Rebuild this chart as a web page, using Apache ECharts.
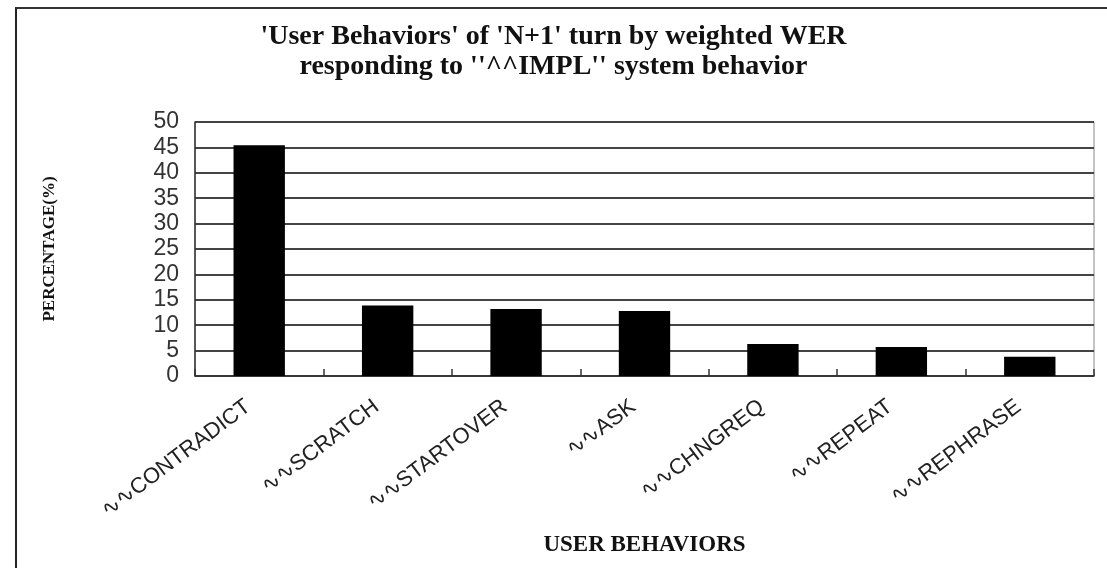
<!DOCTYPE html>
<html>
<head>
<meta charset="utf-8">
<script src="https://cdn.jsdelivr.net/npm/echarts@6/dist/echarts.min.js"></script>
<style>
  html, body { margin: 0; padding: 0; background: #fff; }
  #frame { position: absolute; left: 15px; top: 7px; width: 1092px; height: 561px;
           border-left: 2px solid #222; border-top: 2px solid #333; box-sizing: border-box; }
  #chart { width: 1107px; height: 568px; }
</style>
</head>
<body>
<div id="frame"></div>
<div id="chart"></div>
<script>
const categories = ['CONTRADICT', 'SCRATCH', 'STARTOVER', 'ASK', 'CHNGREQ', 'REPEAT', 'REPHRASE'];
const percentages = [45.4, 13.9, 13.2, 12.8, 6.3, 5.7, 3.8];
const titleLines = ["'User Behaviors' of 'N+1' turn by weighted WER", "responding to ''^^IMPL'' system behavior"];

let chart = echarts.init(document.getElementById('chart'));
let option = {
    backgroundColor: 'transparent',
    animation: false,
    title: {
        text: titleLines.join('\n'),
        left: 'center',
        top: 17,
        textStyle: {
            fontFamily: 'Liberation Serif',
            fontWeight: 'bold',
            fontSize: 28,
            lineHeight: 30,
            color: '#111'
        }
    },
    grid: {
        left: 195,
        right: 13,
        top: 122,
        bottom: 192,
        show: true,
        borderColor: '#888',
        borderWidth: 1
    },
    xAxis: {
        type: 'category',
        data: categories,
        name: 'USER BEHAVIORS',
        nameLocation: 'middle',
        nameGap: 158,
        nameTextStyle: {
            fontFamily: 'Liberation Serif',
            fontWeight: 'bold',
            fontSize: 23,
            color: '#111'
        },
        axisLine: { lineStyle: { color: '#333', width: 1.5 } },
        axisTick: { show: true, inside: true, length: 7, lineStyle: { color: '#333', width: 1.5 } },
        axisLabel: {
            rotate: 37,
            margin: 20,
            padding: [0, 14, 0, 0],
            fontFamily: 'Liberation Sans',
            fontSize: 22,
            color: '#222',
            formatter: v => '\u223F\u223F' + v
        }
    },
    yAxis: {
        type: 'value',
        min: 0,
        max: 50,
        interval: 5,
        name: 'PERCENTAGE(%)',
        nameLocation: 'middle',
        nameGap: 137,
        nameTextStyle: {
            fontFamily: 'Liberation Serif',
            fontWeight: 'bold',
            fontSize: 17,
            color: '#111'
        },
        axisLine: { show: true, lineStyle: { color: '#333', width: 1.5 } },
        axisTick: { show: false },
        axisLabel: {
            margin: 16,
            fontFamily: 'Liberation Sans',
            fontSize: 23,
            color: '#333'
        },
        splitLine: { lineStyle: { color: '#444', width: 2 } }
    },
    series: [{
        type: 'bar',
        data: percentages,
        barWidth: '40%',
        itemStyle: { color: '#000' }
    }]
};
chart.setOption(option);
</script>
</body>
</html>
